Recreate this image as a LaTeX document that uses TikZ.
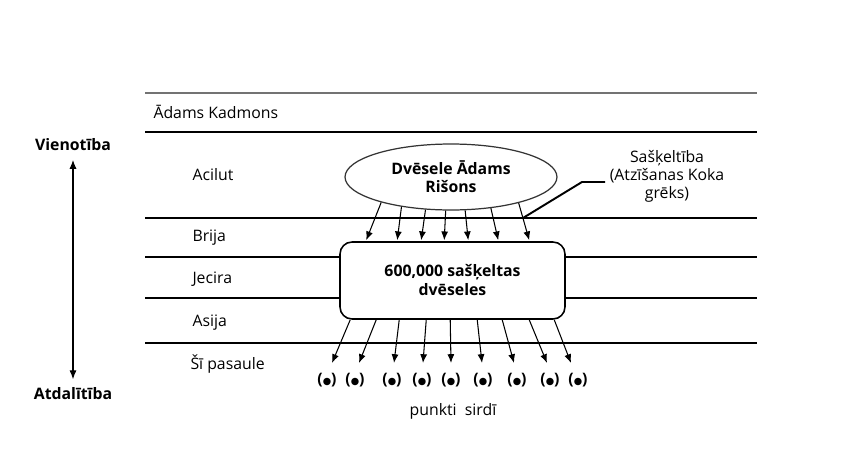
\documentclass[tikz,border=0pt]{standalone}
\usepackage{fontspec}
\setmainfont{Open Sans}
\newfontfamily\dotfont{DejaVu Sans}
\usepackage{tikz}
\usetikzlibrary{
        arrows.meta,
        calc,
        positioning,
        shapes.geometric
    }
\tikzset{>={Latex[length=5pt,width=4pt]},x=0.02cm,y=-0.02cm}
\tikzset{
    txt/.style={font=\fontsize{9}{10.2}\selectfont,inner sep=0pt},
    layer/.style={txt,anchor=base west},
    side/.style={txt,anchor=base,font=\fontsize{9}{10.2}\selectfont\bfseries},
    soulshape/.style={ellipse,draw=black!80,line width=0.7pt,inner sep=0pt,
        minimum width=4.24cm,minimum height=1.32cm,align=center,
        font=\fontsize{9}{10.2}\selectfont\bfseries},
    shardbox/.style={rectangle,draw,fill=white,line width=0.9pt,rounded corners=0.24cm,
        minimum width=4.5cm,minimum height=1.54cm,align=center,
        font=\fontsize{9}{10.8}\selectfont\bfseries},
    spark/.style={txt,font=\fontsize{9}{10.2}\selectfont\bfseries}
}

\begin{document}
\begin{tikzpicture}[line width=0.6pt]
    \useasboundingbox (0,0) rectangle (850,450);
    % worlds
    \draw[line width=1.2pt,black!55] (145,93) -- (757,93);
    \foreach \y in {132,218,257,298}
        \draw (145,\y) -- (757,\y);
    \draw[line width=1.3pt] (145,343) -- (757,343);

    \node[layer] (kadmon) at (153,118) {Ādams Kadmons};
    \node[layer] (acilut) at (192,180) {Acilut};
    \node[layer] (brija)  at (192,241) {Brija};
    \node[layer] (jecira) at (192,283) {Jecira};
    \node[layer] (asija)  at (192,326) {Asija};
    \node[layer] (world)  at (190,369) {Šī pasaule};

    \node[side] (unity)      at (73,150) {Vienotība};
    \node[side] (separation) at (73,399) {Atdalītība};
    \draw[<->,shorten <=6pt,shorten >=3pt] (unity.north) ++(0,12) coordinate (u)
        (u) -- ($(separation.north)+(0,-2)$);

    \node[soulshape] (soul)   at (451,177) {Dvēsele Ādams\\Rišons};
    \node[shardbox]  (shards) at (452.5,280.5) {600,000 sašķeltas\\dvēseles};

    % from the soul down to the shards
    \foreach \a/\dx in {200/27,211/58,232/82,261/105,293/129,322/159,339/190}
        \draw[->] (soul.\a) -- ($(shards.north west)+(\dx,-1)$);

    % sparks in the heart
    \foreach \dx/\tx/\px [count=\i] in {11/332/327,37/359/355,60/394/392,87/423/422,
            111/451/451,138/482/483,163/514/517,190/547/550,215/571/578} {
        \node[spark] (d\i) at (\px,380) {({\dotfont\fontsize{5.5}{6}\selectfont ●})};
        \coordinate (p\i) at (\tx,363);
        \draw[->] ($(shards.south west)+(\dx,0)$) -- (p\i);
    }
    \node[txt,anchor=base] (points) at (453,415) {punkti\ \ sirdī};

    \node[txt,align=center] (shatter) at (667,176) {Sašķeltība\\(Atzīšanas Koka\\grēks)};
    \coordinate (cut) at (523,218);
    \draw[line width=1.1pt] (cut) -- (582,182) -- (605,182);
\end{tikzpicture}
\end{document}
